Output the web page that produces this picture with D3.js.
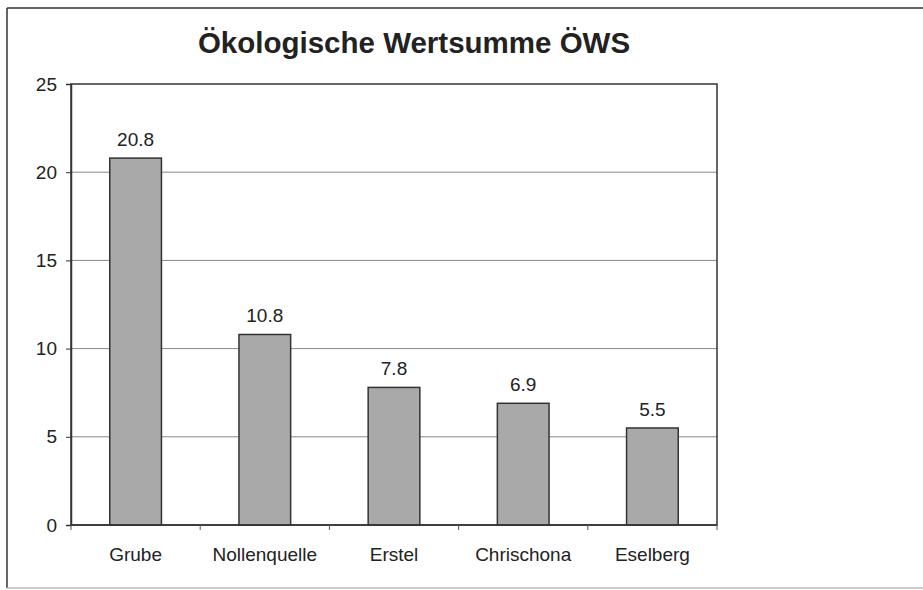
<!DOCTYPE html>
<html>
<head>
<meta charset="utf-8">
<script src="https://cdn.jsdelivr.net/npm/d3@7"></script>
<style>
  body { margin: 0; background: #fff; }
  text { font-family: Arial, "Liberation Sans", sans-serif; fill: #222; }
</style>
</head>
<body>
<svg width="923" height="590"></svg>
<script>
// data
var categories = ["Grube", "Nollenquelle", "Erstel", "Chrischona", "Eselberg"];
var values = [20.8, 10.8, 7.8, 6.9, 5.5];
var yTicks = [0, 5, 10, 15, 20, 25];
var title = "Ökologische Wertsumme ÖWS";

var svg = d3.select("svg");
var margin = { top: 84, right: 206, bottom: 65, left: 71 },
  width = 923 - margin.left - margin.right,
  height = 590 - margin.top - margin.bottom;

// outer frame
svg.append("line").attr("x1", 7).attr("y1", 8).attr("x2", 923).attr("y2", 8)
  .attr("stroke", "#333").attr("stroke-width", 1.5);
svg.append("line").attr("x1", 7).attr("y1", 8).attr("x2", 7).attr("y2", 588)
  .attr("stroke", "#333").attr("stroke-width", 1.5);
svg.append("line").attr("x1", 7).attr("y1", 588).attr("x2", 923).attr("y2", 588)
  .attr("stroke", "#bbb").attr("stroke-width", 1.5);

svg.append("text")
  .attr("x", 414).attr("y", 53)
  .attr("text-anchor", "middle")
  .style("font-size", "29.5px").style("font-weight", "bold")
  .text(title);

var g = svg.append("g")
  .attr("transform", "translate(" + margin.left + "," + margin.top + ")");

var x = d3.scaleBand().domain(categories).range([0, width]).paddingInner(0.6).paddingOuter(0.3);
var y = d3.scaleLinear().domain([0, 25]).range([height, 0]);

// gridlines
g.selectAll(".grid").data(yTicks.filter(function(d) { return d > 0 && d < 25; }))
  .enter().append("line")
  .attr("x1", 0).attr("x2", width)
  .attr("y1", function(d) { return y(d); })
  .attr("y2", function(d) { return y(d); })
  .attr("stroke", "#888").attr("stroke-width", 1);

// plot frame
g.append("rect").attr("width", width).attr("height", height)
  .attr("fill", "none").attr("stroke", "#333").attr("stroke-width", 1.5);

// bars
g.selectAll(".bar").data(values).enter().append("rect")
  .attr("x", function(d, i) { return x(categories[i]); })
  .attr("y", function(d) { return y(d); })
  .attr("width", x.bandwidth())
  .attr("height", function(d) { return height - y(d); })
  .attr("fill", "#a9a9a9").attr("stroke", "#333").attr("stroke-width", 1.5);

// value labels
g.selectAll(".lbl").data(values).enter().append("text")
  .attr("x", function(d, i) { return x(categories[i]) + x.bandwidth() / 2; })
  .attr("y", function(d) { return y(d) - 12; })
  .attr("text-anchor", "middle")
  .style("font-size", "19px")
  .text(function(d) { return d.toFixed(1); });

// y axis
var yAxis = g.append("g").call(d3.axisLeft(y).tickValues(yTicks).tickSize(5).tickPadding(9));
yAxis.select(".domain").attr("stroke", "#333").attr("stroke-width", 1.5);
yAxis.selectAll(".tick line").attr("stroke", "#333");
yAxis.selectAll(".tick text").style("font-size", "19px").style("font-family", "Arial, 'Liberation Sans', sans-serif").attr("fill", "#222");

// x axis: ticks between categories
var step = width / categories.length;
var xAxis = g.append("g").attr("transform", "translate(0," + height + ")");
xAxis.append("line").attr("x1", 0).attr("x2", width).attr("stroke", "#333").attr("stroke-width", 1.5);
xAxis.selectAll(".xt").data(d3.range(categories.length + 1)).enter().append("line")
  .attr("x1", function(i) { return i * step; }).attr("x2", function(i) { return i * step; })
  .attr("y1", 0).attr("y2", 5).attr("stroke", "#555");
xAxis.selectAll(".xl").data(categories).enter().append("text")
  .attr("x", function(d) { return x(d) + x.bandwidth() / 2; })
  .attr("y", 36)
  .attr("text-anchor", "middle")
  .style("font-size", "19px")
  .text(function(d) { return d; });
</script>
</body>
</html>
